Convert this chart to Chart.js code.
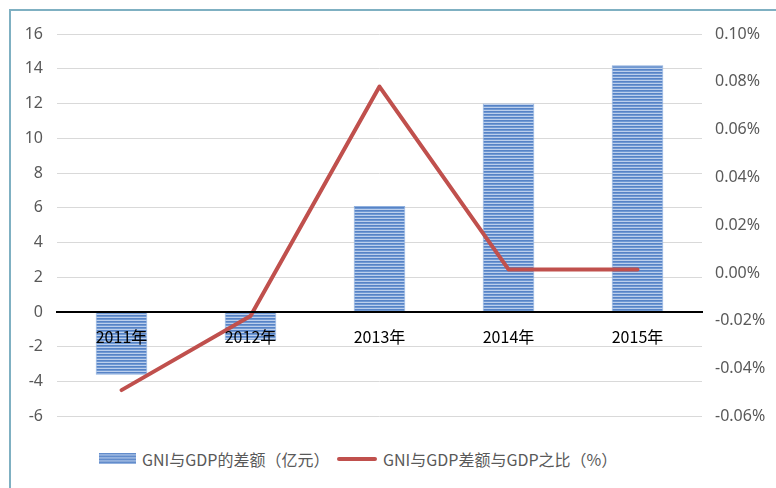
<!DOCTYPE html>
<html>
<head>
<meta charset="utf-8">
<script src="https://cdn.jsdelivr.net/npm/chart.js@4.4.1/dist/chart.umd.min.js"></script>
<style>
  html, body { margin: 0; padding: 0; background: #fff; }
  #wrap { position: relative; width: 776px; height: 488px; overflow: hidden; }
  #frame { position: absolute; left: 9px; top: 9px; width: 800px; height: 500px;
           border-left: 2px solid #7fb0c2; border-top: 2px solid #7fb0c2; }
  #chart { position: absolute; left: 0; top: 0; }
  .lg { position: absolute; font: 16px "Noto Sans CJK SC", sans-serif; color: #595959; line-height: 20px; top: 449px; white-space: nowrap; }
  .lg-bar { position: absolute; left: 99px; top: 453px; width: 37px; height: 11px;
            background: repeating-linear-gradient(to bottom, #5783c6 0px, #6e96d1 1px, #bccfec 2px, #5783c6 3px); }
  .lg-line { position: absolute; left: 337px; top: 457px; width: 40px; height: 4px; border-radius: 2px; background: #c0504d; }
</style>
</head>
<body>
<div id="wrap">
  <div id="frame"></div>
  <canvas id="chart" width="776" height="440"></canvas>
  <div class="lg-bar"></div>
  <div class="lg" style="left:142px">GNI与GDP的差额（亿元）</div>
  <div class="lg-line"></div>
  <div class="lg" style="left:383px">GNI与GDP差额与GDP之比（%）</div>
</div>
<script>
const years = ['2011年', '2012年', '2013年', '2014年', '2015年'];
const diffValues = [-3.6, -1.6, 6.1, 12.0, 14.2];
const ratioValues = [-0.049, -0.018, 0.078, 0.0015, 0.0015];
const leftTicks = { min: -6, max: 16, step: 2 };
const rightTicks = { min: -0.06, max: 0.10, step: 0.02 };

function stripePattern() {
  const c = document.createElement('canvas');
  c.width = 4; c.height = 3;
  const g = c.getContext('2d');
  ['#5783c6', '#7099d3', '#bccfec'].forEach((col, i) => {
    g.fillStyle = col;
    g.fillRect(0, i, 4, 1);
  });
  return g.createPattern(c, 'repeat');
}

const tickFont = { family: '"Noto Sans", sans-serif', size: 16 };

new Chart(document.getElementById('chart'), {
  type: 'bar',
  data: {
    labels: years,
    datasets: [
      {
        type: 'line',
        label: 'GNI与GDP差额与GDP之比（%）',
        data: ratioValues,
        yAxisID: 'y1',
        borderColor: '#c0504d',
        borderWidth: 4,
        borderCapStyle: 'round',
        borderJoinStyle: 'round',
        pointRadius: 0,
        tension: 0,
        order: 0
      },
      {
        label: 'GNI与GDP的差额（亿元）',
        data: diffValues,
        yAxisID: 'y',
        backgroundColor: stripePattern(),
        borderColor: '#8fb0de',
        borderWidth: 1,
        categoryPercentage: 0.8,
        barPercentage: 0.5,
        order: 1
      }
    ]
  },
  options: {
    responsive: false,
    animation: false,
    layout: { padding: { top: 34, left: 0, right: 0, bottom: 23 } },
    plugins: { legend: { display: false }, tooltip: { enabled: false } },
    scales: {
      x: {
        position: { y: 0 },
        grid: { display: false, drawTicks: false },
        border: { display: true, color: '#000', width: 2, z: 1 },
        ticks: { z: 1, color: '#000', padding: 15, font: { family: '"Noto Sans CJK SC", sans-serif', size: 16 } },
        afterFit: s => { s.height = 0; }
      },
      y: {
        position: 'left',
        min: leftTicks.min,
        max: leftTicks.max,
        grid: { color: '#d9d9d9', lineWidth: 1, drawTicks: false },
        border: { display: false },
        ticks: { stepSize: leftTicks.step, color: '#595959', padding: 14, font: tickFont },
        afterFit: s => { s.width = 57; }
      },
      y1: {
        position: 'right',
        min: rightTicks.min,
        max: rightTicks.max,
        grid: { display: false, drawTicks: false },
        border: { display: false },
        ticks: {
          stepSize: rightTicks.step,
          color: '#595959',
          padding: 13,
          font: tickFont,
          callback: v => v.toFixed(2) + '%'
        },
        afterFit: s => { s.width = 74; }
      }
    }
  }
});
</script>
</body>
</html>
